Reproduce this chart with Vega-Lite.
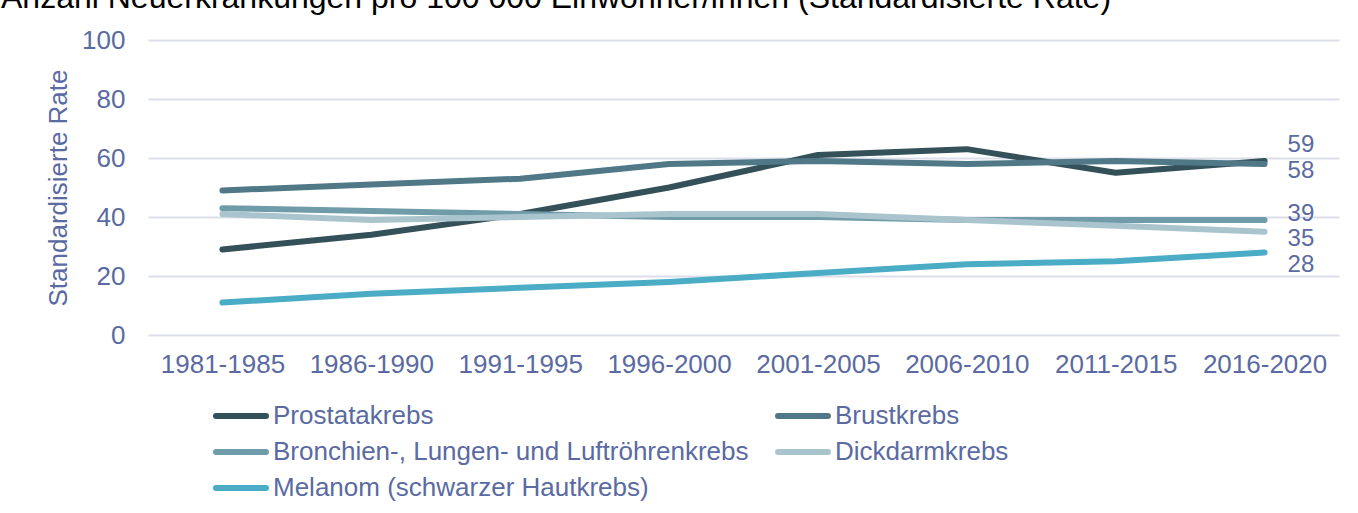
{
  "$schema": "https://vega.github.io/schema/vega-lite/v6.json",
  "autosize": {"type": "none"},
  "padding": {"left": 148, "top": 40, "right": 19, "bottom": 178},
  "width": 1191,
  "height": 295,
  "background": "white",
  "title": {
    "text": "Anzahl Neuerkrankungen pro 100 000 Einwohner/innen (Standardisierte Rate)",
    "anchor": "start",
    "frame": "group",
    "dx": -147,
    "offset": 12,
    "fontSize": 32,
    "fontWeight": "normal",
    "color": "#000000",
    "font": "Liberation Sans"
  },
  "config": {
    "font": "Liberation Sans",
    "view": {"stroke": null}
  },
  "data": {
    "values": [
      {"series": "Prostatakrebs", "period": "1981-1985", "rate": 29},
      {"series": "Prostatakrebs", "period": "1986-1990", "rate": 34},
      {"series": "Prostatakrebs", "period": "1991-1995", "rate": 41},
      {"series": "Prostatakrebs", "period": "1996-2000", "rate": 50},
      {"series": "Prostatakrebs", "period": "2001-2005", "rate": 61},
      {"series": "Prostatakrebs", "period": "2006-2010", "rate": 63},
      {"series": "Prostatakrebs", "period": "2011-2015", "rate": 55},
      {"series": "Prostatakrebs", "period": "2016-2020", "rate": 59},
      {"series": "Brustkrebs", "period": "1981-1985", "rate": 49},
      {"series": "Brustkrebs", "period": "1986-1990", "rate": 51},
      {"series": "Brustkrebs", "period": "1991-1995", "rate": 53},
      {"series": "Brustkrebs", "period": "1996-2000", "rate": 58},
      {"series": "Brustkrebs", "period": "2001-2005", "rate": 59},
      {"series": "Brustkrebs", "period": "2006-2010", "rate": 58},
      {"series": "Brustkrebs", "period": "2011-2015", "rate": 59},
      {"series": "Brustkrebs", "period": "2016-2020", "rate": 58},
      {"series": "Bronchien-, Lungen- und Luftröhrenkrebs", "period": "1981-1985", "rate": 43},
      {"series": "Bronchien-, Lungen- und Luftröhrenkrebs", "period": "1986-1990", "rate": 42},
      {"series": "Bronchien-, Lungen- und Luftröhrenkrebs", "period": "1991-1995", "rate": 41},
      {"series": "Bronchien-, Lungen- und Luftröhrenkrebs", "period": "1996-2000", "rate": 40},
      {"series": "Bronchien-, Lungen- und Luftröhrenkrebs", "period": "2001-2005", "rate": 40},
      {"series": "Bronchien-, Lungen- und Luftröhrenkrebs", "period": "2006-2010", "rate": 39},
      {"series": "Bronchien-, Lungen- und Luftröhrenkrebs", "period": "2011-2015", "rate": 39},
      {"series": "Bronchien-, Lungen- und Luftröhrenkrebs", "period": "2016-2020", "rate": 39},
      {"series": "Dickdarmkrebs", "period": "1981-1985", "rate": 41},
      {"series": "Dickdarmkrebs", "period": "1986-1990", "rate": 39},
      {"series": "Dickdarmkrebs", "period": "1991-1995", "rate": 40},
      {"series": "Dickdarmkrebs", "period": "1996-2000", "rate": 41},
      {"series": "Dickdarmkrebs", "period": "2001-2005", "rate": 41},
      {"series": "Dickdarmkrebs", "period": "2006-2010", "rate": 39},
      {"series": "Dickdarmkrebs", "period": "2011-2015", "rate": 37},
      {"series": "Dickdarmkrebs", "period": "2016-2020", "rate": 35},
      {"series": "Melanom (schwarzer Hautkrebs)", "period": "1981-1985", "rate": 11},
      {"series": "Melanom (schwarzer Hautkrebs)", "period": "1986-1990", "rate": 14},
      {"series": "Melanom (schwarzer Hautkrebs)", "period": "1991-1995", "rate": 16},
      {"series": "Melanom (schwarzer Hautkrebs)", "period": "1996-2000", "rate": 18},
      {"series": "Melanom (schwarzer Hautkrebs)", "period": "2001-2005", "rate": 21},
      {"series": "Melanom (schwarzer Hautkrebs)", "period": "2006-2010", "rate": 24},
      {"series": "Melanom (schwarzer Hautkrebs)", "period": "2011-2015", "rate": 25},
      {"series": "Melanom (schwarzer Hautkrebs)", "period": "2016-2020", "rate": 28}
    ]
  },
  "encoding": {
    "x": {
      "field": "period",
      "type": "ordinal",
      "sort": ["1981-1985", "1986-1990", "1991-1995", "1996-2000", "2001-2005", "2006-2010", "2011-2015", "2016-2020"],
      "scale": {"type": "point", "padding": 0.5},
      "axis": {
        "title": null,
        "labelAngle": 0,
        "labelFontSize": 26,
        "labelColor": "#5a6aa2",
        "labelPadding": 16,
        "ticks": false,
        "domain": false,
        "grid": false
      }
    },
    "y": {
      "field": "rate",
      "type": "quantitative",
      "scale": {"domain": [0, 100]},
      "axis": {
        "title": "Standardisierte Rate",
        "titleFontSize": 26,
        "titleFontWeight": "normal",
        "titleColor": "#5a6aa2",
        "titlePadding": 10,
        "values": [0, 20, 40, 60, 80, 100],
        "labelFontSize": 26,
        "labelColor": "#5a6aa2",
        "labelPadding": 23,
        "ticks": false,
        "domain": false,
        "gridColor": "#dcdfeb",
        "gridWidth": 2
      }
    }
  },
  "layer": [
    {
      "mark": {"type": "line", "strokeWidth": 6, "strokeCap": "round", "strokeJoin": "round"},
      "encoding": {
        "color": {
          "field": "series",
          "type": "nominal",
          "scale": {
            "domain": ["Prostatakrebs", "Brustkrebs", "Bronchien-, Lungen- und Luftröhrenkrebs", "Dickdarmkrebs", "Melanom (schwarzer Hautkrebs)"],
            "range": ["#345059", "#507887", "#709ba8", "#aac4cd", "#4aacc5"]
          },
          "legend": {
            "title": null,
            "orient": "none",
            "legendX": 65,
            "legendY": 361,
            "direction": "horizontal",
            "columns": 2,
            "columnPadding": 17,
            "rowPadding": 8,
            "symbolType": "M-2.083,0H2.083",
            "symbolSize": 576,
            "symbolStrokeWidth": 6,
            "labelFontSize": 26,
            "labelColor": "#5a6aa2",
            "labelOffset": 30,
            "labelLimit": 1000,
            "encode": {"symbols": {"update": {"strokeCap": {"value": "round"}, "x": {"value": 28}}}}
          }
        }
      }
    },
    {
      "transform": [{"filter": "datum.period === '2016-2020' && datum.series === 'Prostatakrebs'"}],
      "mark": {"type": "text", "align": "left", "baseline": "middle", "dx": 23, "dy": -15.5, "fontSize": 24, "color": "#5a6aa2"},
      "encoding": {"text": {"field": "rate", "type": "quantitative"}}
    },
    {
      "transform": [{"filter": "datum.period === '2016-2020' && datum.series === 'Brustkrebs'"}],
      "mark": {"type": "text", "align": "left", "baseline": "middle", "dx": 23, "dy": 7.5, "fontSize": 24, "color": "#5a6aa2"},
      "encoding": {"text": {"field": "rate", "type": "quantitative"}}
    },
    {
      "transform": [{"filter": "datum.period === '2016-2020' && datum.series === 'Bronchien-, Lungen- und Luftröhrenkrebs'"}],
      "mark": {"type": "text", "align": "left", "baseline": "middle", "dx": 23, "dy": -5.5, "fontSize": 24, "color": "#5a6aa2"},
      "encoding": {"text": {"field": "rate", "type": "quantitative"}}
    },
    {
      "transform": [{"filter": "datum.period === '2016-2020' && datum.series === 'Dickdarmkrebs'"}],
      "mark": {"type": "text", "align": "left", "baseline": "middle", "dx": 23, "dy": 7, "fontSize": 24, "color": "#5a6aa2"},
      "encoding": {"text": {"field": "rate", "type": "quantitative"}}
    },
    {
      "transform": [{"filter": "datum.period === '2016-2020' && datum.series === 'Melanom (schwarzer Hautkrebs)'"}],
      "mark": {"type": "text", "align": "left", "baseline": "middle", "dx": 23, "dy": 12.5, "fontSize": 24, "color": "#5a6aa2"},
      "encoding": {"text": {"field": "rate", "type": "quantitative"}}
    }
  ]
}
